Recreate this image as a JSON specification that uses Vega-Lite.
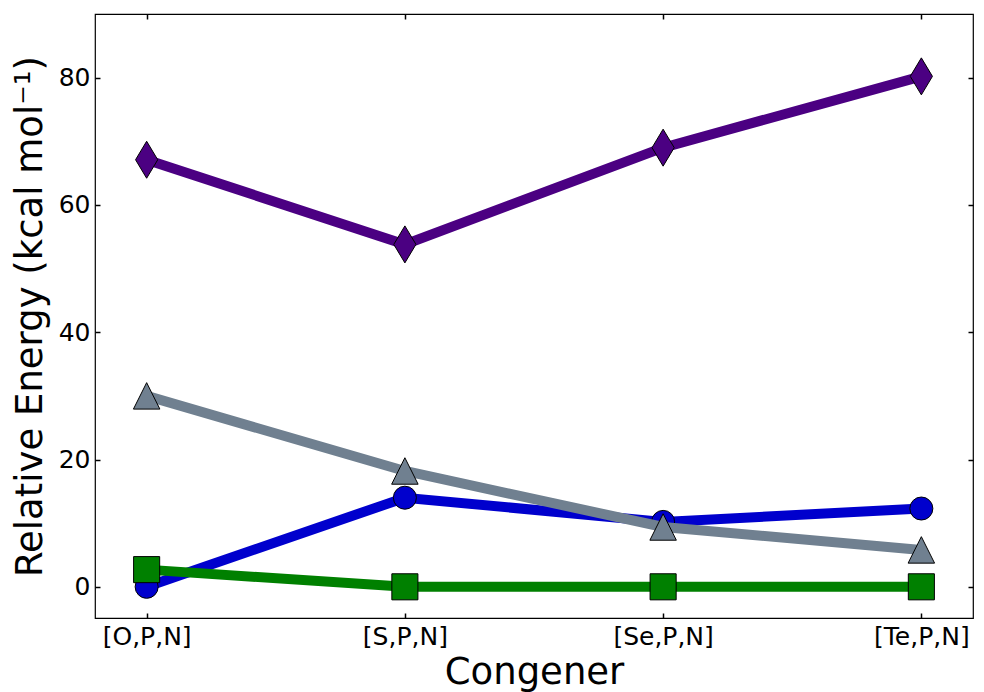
{
  "$schema": "https://vega.github.io/schema/vega-lite/v6.json",
  "width": 878,
  "height": 604,
  "autosize": "none",
  "padding": {"left": 95, "top": 14, "right": 11, "bottom": 74},
  "background": "white",
  "config": {
    "view": {"stroke": "black", "strokeWidth": 1.2},
    "font": "DejaVu Sans",
    "axis": {"grid": false, "domain": false, "tickColor": "black", "tickWidth": 1.5, "labelColor": "black", "titleColor": "black", "titleFontWeight": "normal", "labelFont": "DejaVu Sans", "titleFont": "DejaVu Sans"}
  },
  "data": {
    "values": [
      {"congener": "[O,P,N]", "series": "D", "energy": 0.0},
      {"congener": "[S,P,N]", "series": "D", "energy": 14.0},
      {"congener": "[Se,P,N]", "series": "D", "energy": 10.2},
      {"congener": "[Te,P,N]", "series": "D", "energy": 12.3},
      {"congener": "[O,P,N]", "series": "C", "energy": 2.7},
      {"congener": "[S,P,N]", "series": "C", "energy": 0.0},
      {"congener": "[Se,P,N]", "series": "C", "energy": 0.0},
      {"congener": "[Te,P,N]", "series": "C", "energy": 0.0},
      {"congener": "[O,P,N]", "series": "B", "energy": 30.0},
      {"congener": "[S,P,N]", "series": "B", "energy": 18.2},
      {"congener": "[Se,P,N]", "series": "B", "energy": 9.4},
      {"congener": "[Te,P,N]", "series": "B", "energy": 5.8},
      {"congener": "[O,P,N]", "series": "A", "energy": 67.1},
      {"congener": "[S,P,N]", "series": "A", "energy": 53.8},
      {"congener": "[Se,P,N]", "series": "A", "energy": 69.0},
      {"congener": "[Te,P,N]", "series": "A", "energy": 80.2}
    ]
  },
  "resolve": {"axis": {"x": "independent", "y": "independent"}},
  "layer": [
    {
      "encoding": {
        "x": {"field": "congener", "type": "nominal", "sort": ["[O,P,N]", "[S,P,N]", "[Se,P,N]", "[Te,P,N]"],
              "scale": {"type": "point", "padding": 0.2, "domain": ["[O,P,N]", "[S,P,N]", "[Se,P,N]", "[Te,P,N]"]},
              "axis": {"title": "Congener", "orient": "bottom", "labelAngle": 0, "labelFontSize": 25, "titleFontSize": 37, "tickSize": -5, "labelPadding": 11, "titlePadding": 5}},
        "y": {"field": "energy", "type": "quantitative",
              "scale": {"domain": [-4.9, 90], "nice": false, "zero": false},
              "axis": {"title": "Relative Energy (kcal mol⁻¹)", "orient": "left", "values": [0, 20, 40, 60, 80], "labelFontSize": 25, "titleFontSize": 37, "tickSize": -5, "labelPadding": 10, "titlePadding": 9}},
        "color": {"field": "series", "type": "nominal", "legend": null,
                  "scale": {"domain": ["A", "B", "C", "D"], "range": ["#4B0082", "#708090", "#008000", "#0000CD"]}}
      },
      "layer": [
        {"transform": [{"filter": "datum.series === 'D'"}], "mark": {"type": "line", "strokeWidth": 10}},
        {"transform": [{"filter": "datum.series === 'D'"}], "mark": {"type": "point", "filled": true, "shape": "circle", "size": 530, "stroke": "black", "strokeWidth": 1, "opacity": 1}},
        {"transform": [{"filter": "datum.series === 'C'"}], "mark": {"type": "line", "strokeWidth": 10}},
        {"transform": [{"filter": "datum.series === 'C'"}], "mark": {"type": "point", "filled": true, "shape": "square", "size": 680, "stroke": "black", "strokeWidth": 1, "opacity": 1}},
        {"transform": [{"filter": "datum.series === 'B'"}], "mark": {"type": "line", "strokeWidth": 10}},
        {"transform": [{"filter": "datum.series === 'B'"}], "mark": {"type": "point", "filled": true, "shape": "M0,-1L1,1L-1,1Z", "size": 700, "stroke": "black", "strokeWidth": 1, "opacity": 1}},
        {"transform": [{"filter": "datum.series === 'A'"}], "mark": {"type": "line", "strokeWidth": 10}},
        {"transform": [{"filter": "datum.series === 'A'"}], "mark": {"type": "point", "filled": true, "shape": "M0,-1L0.6,0L0,1L-0.6,0Z", "size": 1369, "stroke": "black", "strokeWidth": 1, "opacity": 1}}
      ]
    },
    {
      "mark": {"type": "point", "opacity": 0},
      "encoding": {
        "x": {"field": "congener", "type": "nominal", "axis": {"orient": "top", "title": null, "labels": false, "tickSize": -5}},
        "y": {"field": "energy", "type": "quantitative", "axis": {"orient": "right", "title": null, "labels": false, "values": [0, 20, 40, 60, 80], "tickSize": -5}}
      }
    }
  ]
}
